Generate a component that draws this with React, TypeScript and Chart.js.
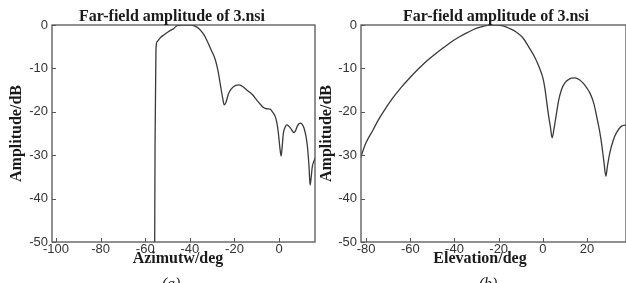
import { useEffect, useRef } from "react";
import { Chart, registerables } from "chart.js";

Chart.register(...registerables);

// ---- data ----
const titleText = "Far-field amplitude of 3.nsi";
const yLabelText = "Amplitude/dB";
const azimuthLabel = "Azimutw/deg";
const elevationLabel = "Elevation/deg";

const yTicks = [0, -10, -20, -30, -40, -50];
const azimuthTicks = [-100, -80, -60, -40, -20, 0];
const elevationTicks = [-80, -60, -40, -20, 0, 20];

const azimuthDeg = [
  -55.8, -55.6, -55.2, -54.6, -53.2, -51.7, -49.5, -47.2, -45.5, -43, -39.5, -37.5, -36, -34,
  -32.4, -30.5, -28.6, -27.4, -26.4, -25.3, -24.6, -23.8, -22.8, -21.5, -19.5, -18, -16,
  -14.5, -12, -10, -8, -7, -5.5, -4, -3, -1.8, -1, -0.3, 0.4, 0.9, 1.4, 1.9, 2.5, 3.4,
  4.3, 5.2, 6.2, 6.7, 7.4, 8.2, 9.0, 9.7, 10.5, 11.2, 12.0, 12.7, 13.4, 13.9, 14.4,
  14.9, 15.5, 16.3,
];
const azimuthDb = [
  -55, -27, -5.5, -3.8, -2.9, -2.3, -1.5, -0.8, -0.1, 0, 0, -0.3, -0.8, -2.0,
  -3.5, -5.7, -8, -10.5, -13.5, -16.8, -18.4, -17.8, -16, -14.8, -13.9, -13.8, -14.3,
  -15, -16, -17.3, -18.5, -19, -19.3, -19.4, -20, -21, -22.5, -25, -28.5, -30.2, -28, -25, -23.8, -23,
  -23.3, -23.8, -24.6, -24.8, -24.3, -23.3, -22.7, -22.6, -23, -23.8, -25.5, -28, -32.5, -36.9, -35,
  -32.6, -31.5, -30.5,
];

const elevationDeg = [
  -82.5, -80, -77, -73.9, -70.9, -67.9, -64, -60.3, -56.5, -52.8, -49, -45.2, -41.5,
  -37.7, -34, -30.2, -27, -24.1, -21, -18.1, -15, -12.1, -9, -5.9, -3.5, -1.4, 0, 0.9,
  2.4, 3.4, 4.2, 5.0, 6.2, 7.2, 8.4, 10, 11.5, 13, 14.5, 16.5, 18.2, 20, 21.3, 23, 24.3,
  25.5, 26.5, 27.6, 28.5, 29.2, 30.3, 31.8, 33.3, 35.6, 38,
];
const elevationDb = [
  -30.6, -27.1, -24.3, -21.4, -19, -16.8, -14.3, -12.2, -10.2, -8.4, -6.8, -5.3, -3.9,
  -2.7, -1.7, -0.8, -0.3, 0, 0, -0.2, -0.8, -1.6, -3.0, -5.5, -7.6, -10.1, -12.2, -14.6,
  -20.3, -23.5, -26, -24, -20.2, -17.2, -14.9, -13.3, -12.6, -12.25, -12.2, -12.6, -13.4, -14.6, -15.7, -18, -21,
  -24, -27.1, -31.5, -34.8, -32.5, -29.4, -26.6, -24.8, -23.3, -23,
];

const serif = '"Liberation Serif", "Times New Roman", serif';
const sans = '"Liberation Sans", Arial, sans-serif';

const framePlugin = {
  id: "frame",
  afterDraw(chart: any, _args: any, opts: any) {
    const { ctx, chartArea: a, scales } = chart;
    ctx.save();
    ctx.strokeStyle = "#555";
    ctx.lineWidth = 1.3;
    ctx.strokeRect(a.left, a.top, a.right - a.left, a.bottom - a.top);
    ctx.lineWidth = 1;
    ctx.beginPath();
    scales.x.ticks.forEach((t: any) => {
      const px = Math.round(scales.x.getPixelForValue(t.value)) + 0.5;
      ctx.moveTo(px, a.bottom);
      ctx.lineTo(px, a.bottom - 4);
    });
    scales.y.ticks.forEach((t: any) => {
      const py = Math.round(scales.y.getPixelForValue(t.value)) + 0.5;
      ctx.moveTo(a.left, py);
      ctx.lineTo(a.left + 4, py);
    });
    ctx.stroke();

    ctx.fillStyle = "#1a1a1a";
    ctx.textAlign = "center";
    ctx.textBaseline = "alphabetic";
    ctx.font = `bold 16px ${serif}`;
    ctx.fillText(opts.title, opts.titleX, 21);
    ctx.fillText(opts.xlabel, opts.xlabelX, 263);
    ctx.font = `italic 16px ${serif}`;
    ctx.textBaseline = "top";
    ctx.fillText(opts.caption, opts.captionX, 277);
    ctx.restore();
  },
};

function makeConfig(
  xs: number[],
  ys: number[],
  xTicks: number[],
  xMin: number,
  xMax: number,
  yAxisWidth: number,
  rightPad: number,
  yTitlePad: number,
  frame: any
): any {
  return {
    type: "line",
    data: {
      datasets: [
        {
          data: xs.map((x, i) => ({ x, y: ys[i] })),
          borderColor: "#3a3a3a",
          borderWidth: 1.3,
          pointRadius: 0,
          fill: false,
          cubicInterpolationMode: "monotone",
        },
      ],
    },
    plugins: [framePlugin],
    options: {
      animation: false,
      responsive: false,
      devicePixelRatio: 1,
      layout: { padding: { top: 25, left: 0, right: rightPad, bottom: 0 } },
      plugins: {
        legend: { display: false },
        title: { display: false },
        tooltip: { enabled: false },
        frame,
      },
      scales: {
        x: {
          type: "linear",
          min: xMin,
          max: xMax,
          grid: { display: false, drawTicks: false },
          border: { display: false },
          afterBuildTicks: (s: any) => {
            s.ticks = xTicks.map((v) => ({ value: v }));
          },
          afterFit: (s: any) => {
            s.height = 41;
          },
          ticks: {
            padding: 0,
            maxRotation: 0,
            autoSkip: false,
            color: "#333",
            font: { family: sans, size: 13 },
          },
        },
        y: {
          min: -50,
          max: 0,
          grid: { display: false, drawTicks: false },
          border: { display: false },
          afterBuildTicks: (s: any) => {
            s.ticks = yTicks.map((v) => ({ value: v }));
          },
          afterFit: (s: any) => {
            s.width = yAxisWidth;
          },
          ticks: {
            padding: 4,
            autoSkip: false,
            color: "#333",
            font: { family: sans, size: 13 },
          },
          title: {
            display: true,
            text: yLabelText,
            color: "#1a1a1a",
            font: { family: serif, size: 16, weight: "bold" },
            padding: { top: yTitlePad, bottom: 0 },
          },
        },
      },
    },
  };
}

export default function App() {
  const leftRef = useRef<HTMLCanvasElement>(null);
  const rightRef = useRef<HTMLCanvasElement>(null);

  useEffect(() => {
    const left = new Chart(
      leftRef.current!,
      makeConfig(azimuthDeg, azimuthDb, azimuthTicks, -101.8, 16.1, 52, 3, 7, {
        title: titleText,
        titleX: 172,
        xlabel: azimuthLabel,
        xlabelX: 178,
        caption: "(a)",
        captionX: 171,
      })
    );
    const right = new Chart(
      rightRef.current!,
      makeConfig(elevationDeg, elevationDb, elevationTicks, -82.3, 37.6, 45, 0, 1.4, {
        title: titleText,
        titleX: 180,
        xlabel: elevationLabel,
        xlabelX: 164,
        caption: "(b)",
        captionX: 172,
      })
    );
    return () => {
      left.destroy();
      right.destroy();
    };
  }, []);

  return (
    <div style={{ position: "absolute", left: 0, top: 0, width: 626, height: 283, background: "#fff", overflow: "hidden" }}>
      <canvas ref={leftRef} width={318} height={283} style={{ position: "absolute", left: 0, top: 0, width: 318, height: 283 }} />
      <canvas ref={rightRef} width={310} height={283} style={{ position: "absolute", left: 316, top: 0, width: 310, height: 283 }} />
    </div>
  );
}
